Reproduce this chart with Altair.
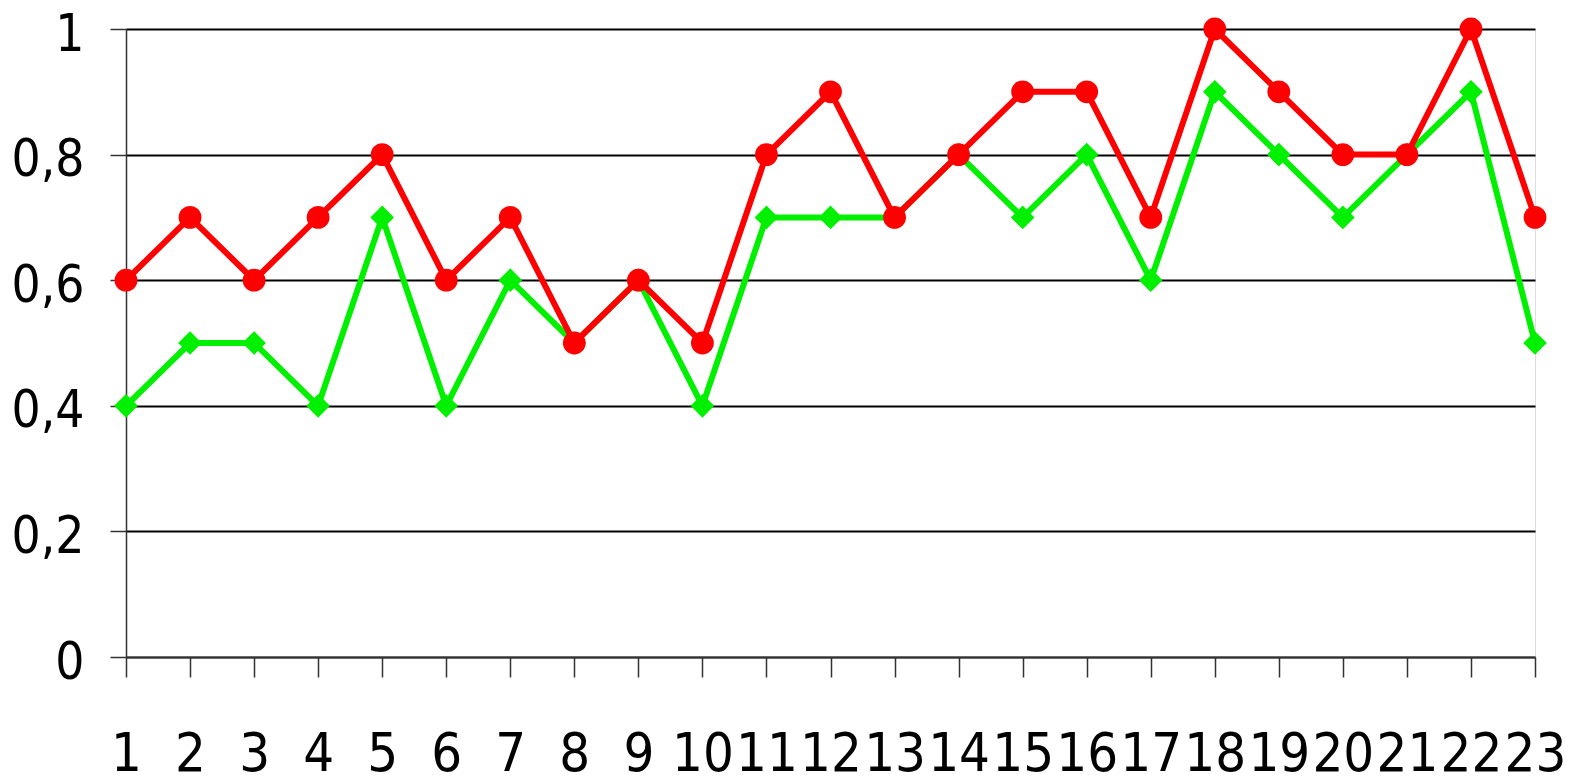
import altair as alt
import pandas as pd

x_vals = list(range(1, 24))
red_vals = [0.6, 0.7, 0.6, 0.7, 0.8, 0.6, 0.7, 0.5, 0.6, 0.5, 0.8, 0.9,
            0.7, 0.8, 0.9, 0.9, 0.7, 1.0, 0.9, 0.8, 0.8, 1.0, 0.7]
green_vals = [0.4, 0.5, 0.5, 0.4, 0.7, 0.4, 0.6, 0.5, 0.6, 0.4, 0.7, 0.7,
              0.7, 0.8, 0.7, 0.8, 0.6, 0.9, 0.8, 0.7, 0.8, 0.9, 0.5]
y_ticks = [0, 0.2, 0.4, 0.6, 0.8, 1.0]

red_df = pd.DataFrame({"x": x_vals, "y": red_vals})
green_df = pd.DataFrame({"x": x_vals, "y": green_vals})

FONT = "DejaVu Sans Condensed, Roboto Condensed, Liberation Sans Narrow, Roboto, sans-serif"

x_enc = alt.X("x:Q", scale=alt.Scale(domain=[1, 23], nice=False, zero=False),
              axis=alt.Axis(values=x_vals, title=None, grid=False, labelFont=FONT,
                            labelFontSize=54, labelColor="black", labelOverlap=False,
                            labelBound=False, labelFlush=False, tickSize=20, tickColor="#333",
                            tickWidth=1.5, domainColor="#333", domainWidth=1.5,
                            labelPadding=50, format="d"))
y_enc = alt.Y("y:Q", scale=alt.Scale(domain=[0, 1], nice=False),
              axis=alt.Axis(values=y_ticks, title=None, grid=True, gridColor="black",
                            gridWidth=2, labelFont=FONT, labelFontSize=51,
                            labelColor="black", tickSize=16, tickColor="#333", tickWidth=1.5,
                            domainColor="#333", domainWidth=1.5, labelPadding=26,
                            labelOffset=6,
                            labelExpr="replace(format(datum.value, '.1~f'), '.', ',')"))

green_layer = alt.Chart(green_df).mark_line(
    color="#00F000", strokeWidth=6,
    point=alt.OverlayMarkDef(shape="diamond", size=560, filled=True, color="#00F000", opacity=1),
).encode(x=x_enc, y=y_enc)

red_layer = alt.Chart(red_df).mark_line(
    color="#FF0000", strokeWidth=6,
    point=alt.OverlayMarkDef(shape="circle", size=520, filled=True, color="#FF0000", opacity=1),
).encode(x=x_enc, y=y_enc)

chart = alt.layer(green_layer, red_layer).properties(
    width=1409, height=628,
    padding={"left": 118, "top": 21, "right": 30, "bottom": 130},
    autosize=alt.AutoSizeParams(type="none"),
).configure_view(stroke="black", strokeWidth=2).configure(background="white")

chart.save("out.html", embed_options={"renderer": "svg", "actions": False})
